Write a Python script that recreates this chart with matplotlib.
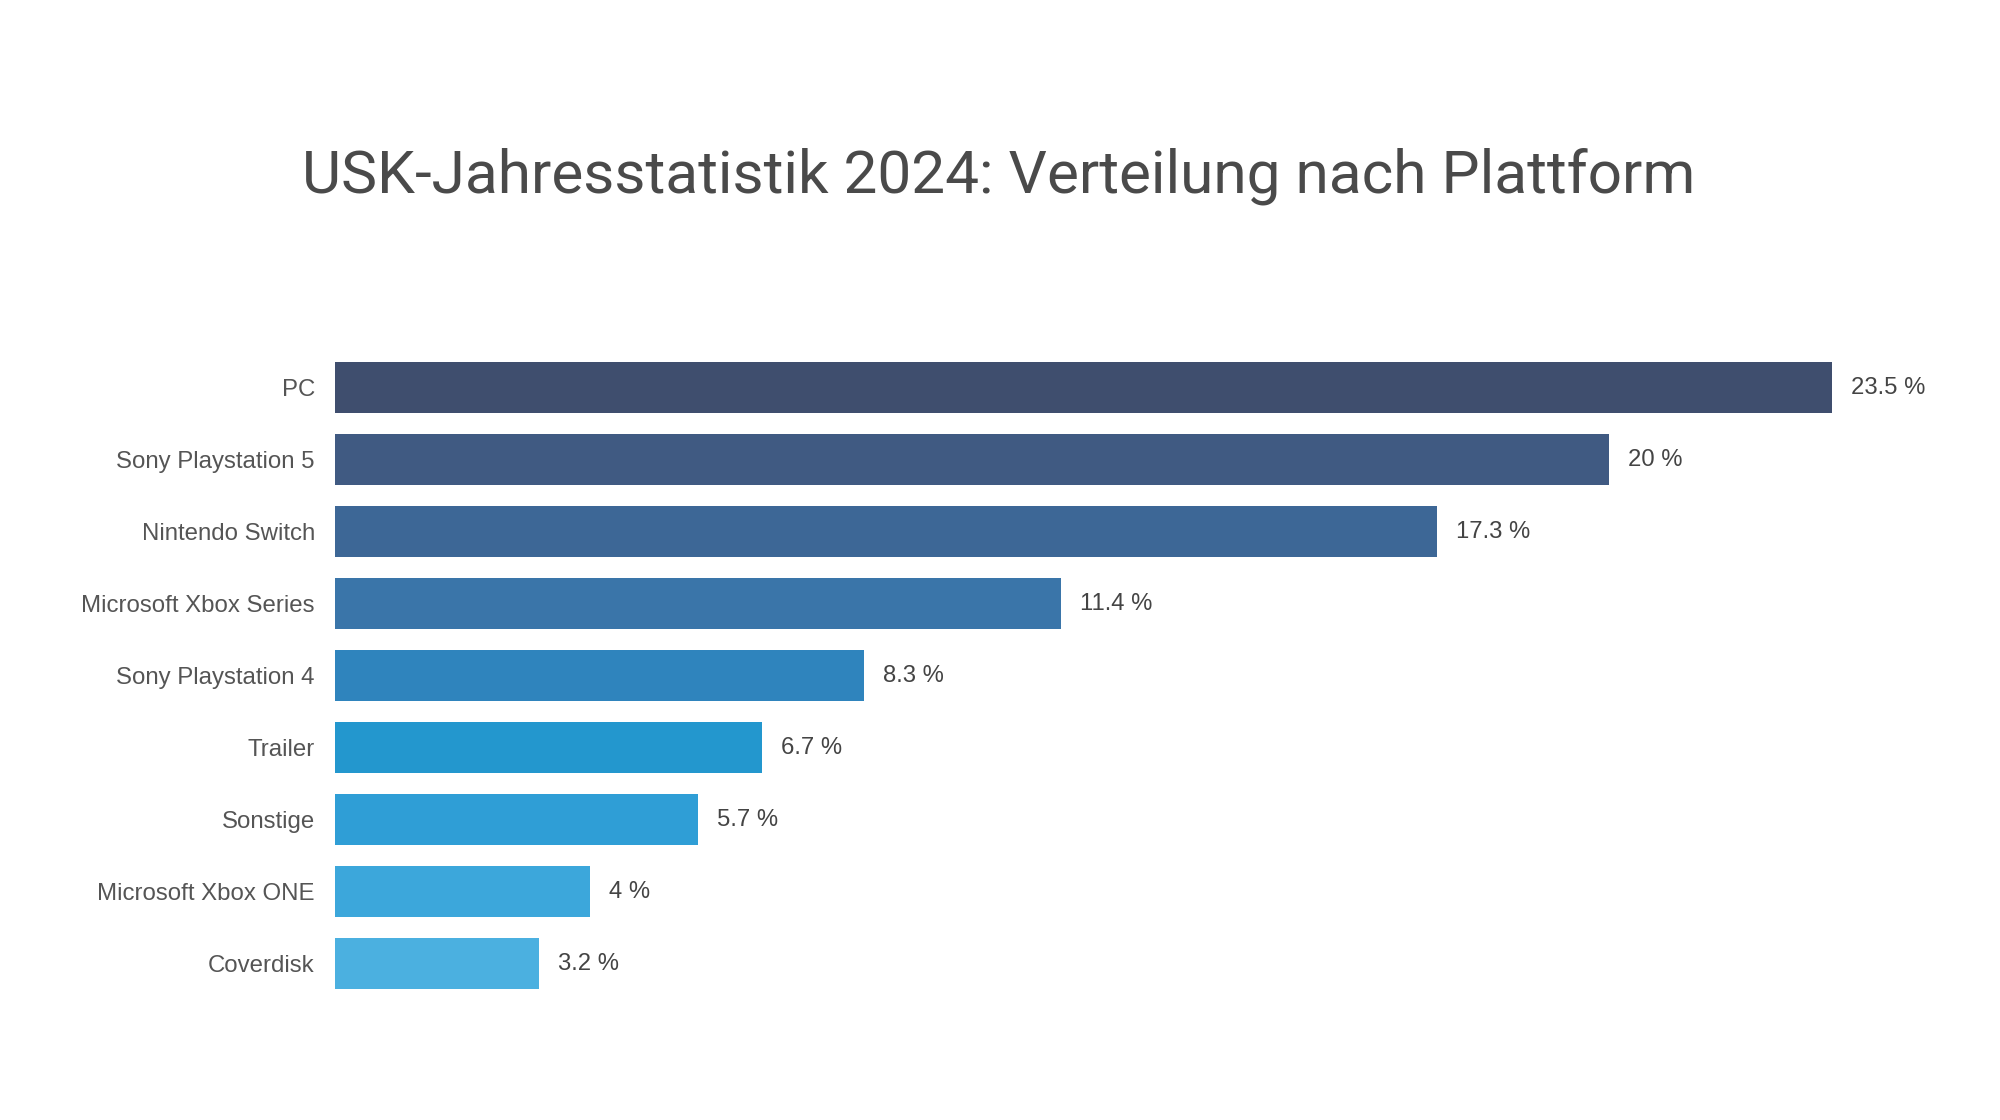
import matplotlib.pyplot as plt

platforms = ['PC', 'Sony Playstation 5', 'Nintendo Switch', 'Microsoft Xbox Series',
             'Sony Playstation 4', 'Trailer', 'Sonstige', 'Microsoft Xbox ONE', 'Coverdisk']
shares = [23.5, 20, 17.3, 11.4, 8.3, 6.7, 5.7, 4, 3.2]
value_labels = ['23.5 %', '20 %', '17.3 %', '11.4 %', '8.3 %', '6.7 %', '5.7 %', '4 %', '3.2 %']
colors = ['#3f4e6e', '#405a82', '#3d6796', '#3a75a9', '#2f84bd',
          '#2397ce', '#2f9ed6', '#3ca7db', '#4bb0e0']

W, H = 2000, 1120
fig = plt.figure(figsize=(20, 11.2), dpi=100)
fig.patch.set_facecolor('white')

# axes placed in pixel terms of the reference
left, top, bottom = 335, 351.7, 999.7
xmax = 26
px_per_unit = 63.7
ax = fig.add_axes([left / W, 1 - bottom / H, xmax * px_per_unit / W, (bottom - top) / H])

ypos = list(range(len(platforms)))
ax.barh(ypos, shares, height=0.715, color=colors)
ax.set_xlim(0, xmax)
ax.set_ylim(len(platforms) - 0.5, -0.5)

for y, v, lab in zip(ypos, shares, value_labels):
    ax.annotate(lab, (v, y), xytext=(19, 0), textcoords='offset pixels',
                va='center', ha='left', fontsize=17.2, color='#444444',
                family='Liberation Sans')

ax.set_yticks(ypos)
ax.set_yticklabels(platforms, fontsize=17.3, color='#555555', family='Liberation Sans')
ax.tick_params(axis='y', length=0, pad=14.5)
ax.set_xticks([])
for s in ax.spines.values():
    s.set_visible(False)

fig.text(999 / W, 1 - 193 / H, 'USK-Jahresstatistik 2024: Verteilung nach Plattform',
         ha='center', va='baseline', fontsize=43.5, color='#4a4a4a',
         family='Roboto', weight='normal')

fig.savefig('out.png', dpi=100, facecolor='white')
